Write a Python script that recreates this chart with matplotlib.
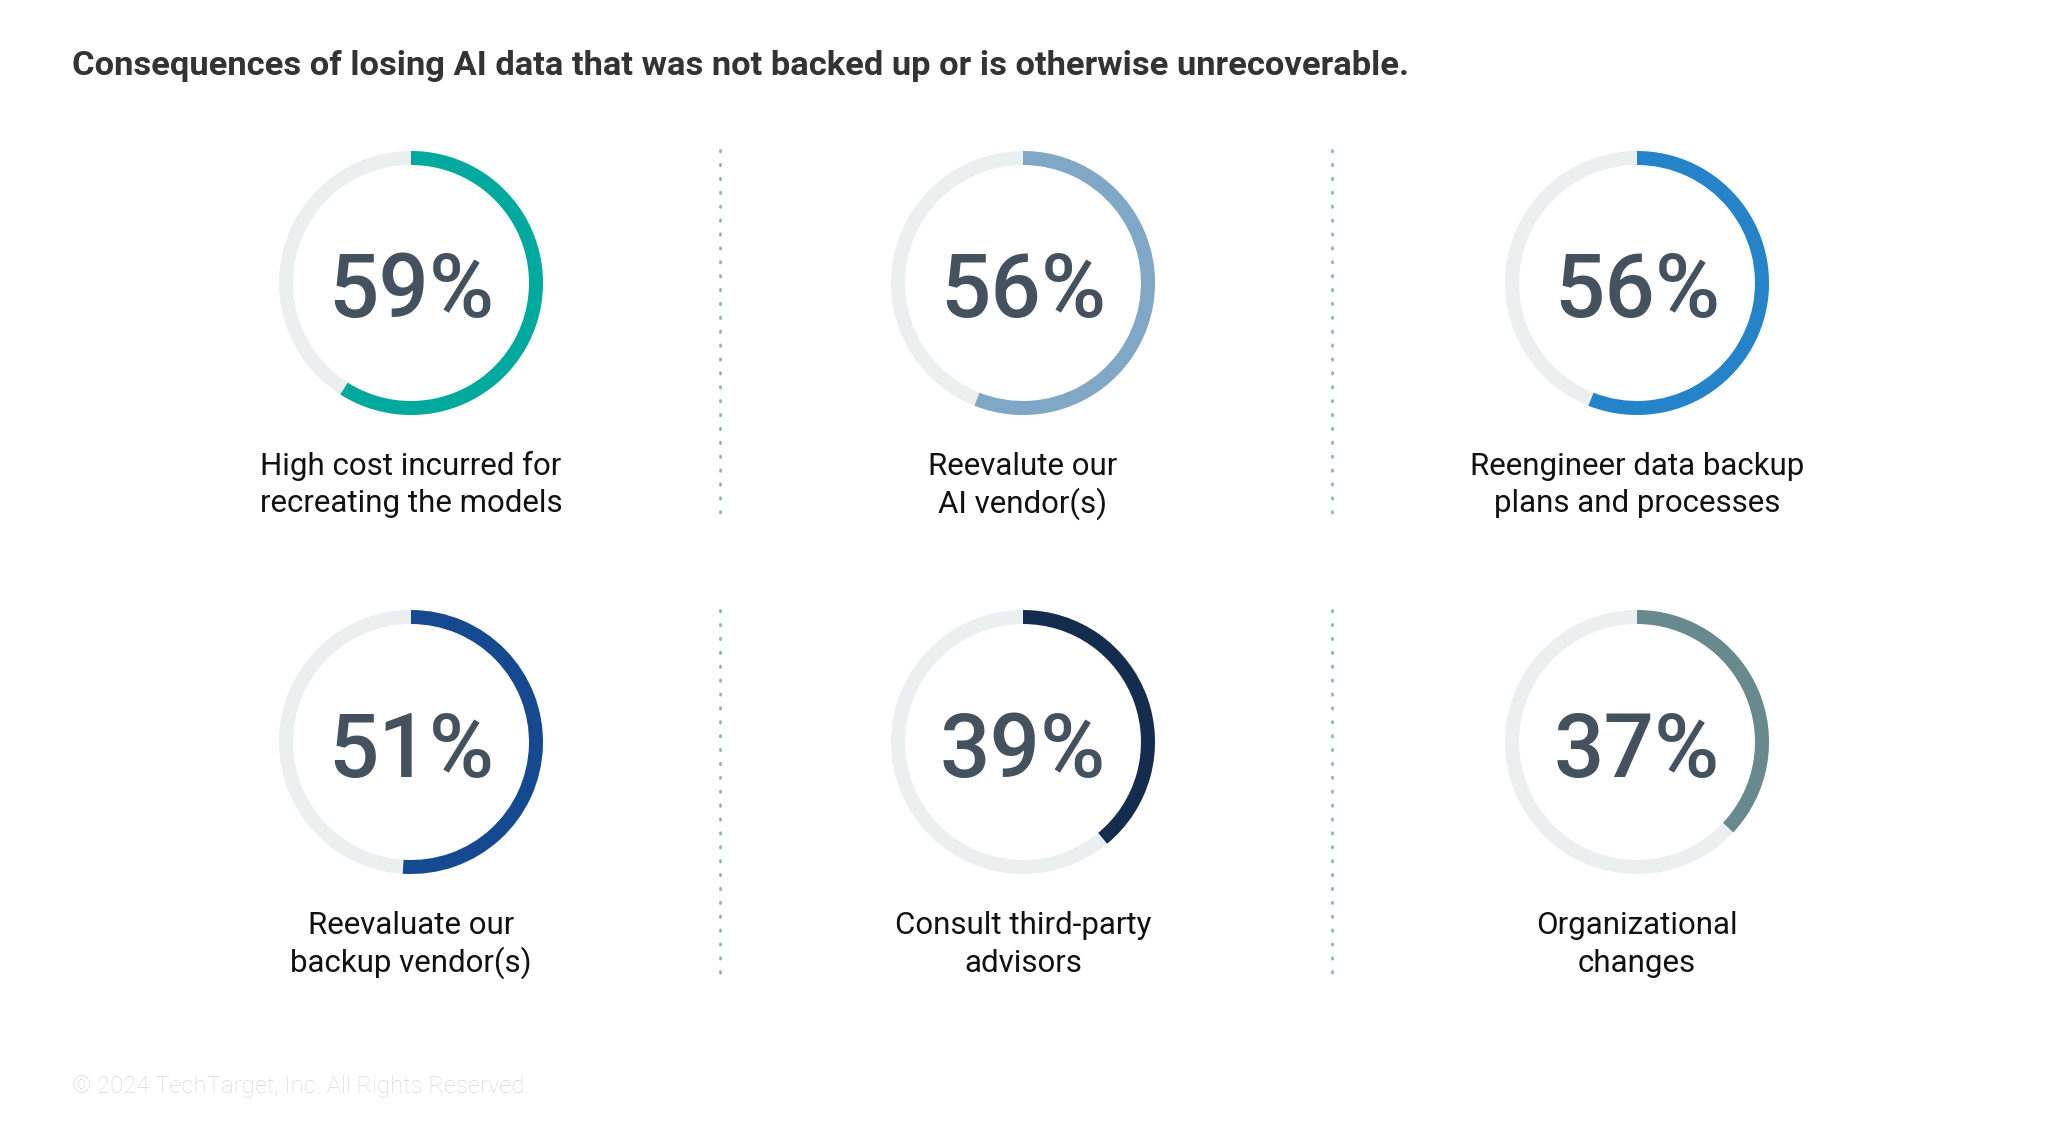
import matplotlib.pyplot as plt
from matplotlib.patches import Wedge

plt.rcParams['font.family'] = ['Roboto', 'DejaVu Sans']

# datos
labels = [
    'High cost incurred for\nrecreating the models',
    'Reevalute our\nAI vendor(s)',
    'Reengineer data backup\nplans and processes',
    'Reevaluate our\nbackup vendor(s)',
    'Consult third-party\nadvisors',
    'Organizational\nchanges',
]
values = [59, 56, 56, 51, 39, 37]
colors = ['#00a99d', '#80a8c6', '#2483c9', '#154a91', '#142c4e', '#688a8e']

title = 'Consequences of losing AI data that was not backed up or is otherwise unrecoverable.'
footer = '\u00a9 2024 TechTarget, Inc. All Rights Reserved.'

W, H = 2048, 1128
fig = plt.figure(figsize=(W / 100, H / 100), dpi=100)
ax = fig.add_axes([0, 0, 1, 1])
ax.set_xlim(0, W)
ax.set_ylim(H, 0)
ax.set_aspect('equal')
ax.axis('off')

col_x = [411, 1023, 1637]
row_y = [283, 742]
r_out = 132
ring = 14

for i, (lab, v, c) in enumerate(zip(labels, values, colors)):
    cx = col_x[i % 3]
    cy = row_y[i // 3]
    # anillo de fondo
    ax.add_patch(Wedge((cx, cy), r_out, 0, 360, width=ring, color='#ebeff0', lw=0))
    # arco del valor, desde arriba en sentido horario
    ax.add_patch(Wedge((cx, cy), r_out, -90, -90 + 360 * v / 100, width=ring, color=c, lw=0))
    ax.text(cx, cy + 10, f'{v}%', ha='center', va='center', fontsize=64,
            fontweight='medium', color='#44525f')
    # cada línea de la etiqueta por separado, alineada a la línea base
    for k, linea in enumerate(lab.split('\n')):
        ax.text(cx, cy + 192 + 37.5 * k, linea, ha='center', va='baseline',
                fontsize=22.5, color='#111111')

# líneas punteadas separadoras
for x in [720, 1332]:
    for y0, y1 in [(150, 516), (610, 974)]:
        ax.plot([x, x], [y0, y1], color='#8fb3b3', lw=2, ls=(0, (0.5, 4.5)),
                dash_capstyle='round')

ax.text(72, 66, title, ha='left', va='center', fontsize=24.8, fontweight='bold',
        color='#333333')
ax.text(72, 1087, footer, ha='left', va='center', fontsize=17.2, fontweight='light',
        color='#d8d8d8')

fig.savefig('out.png', dpi=100, facecolor='white')
